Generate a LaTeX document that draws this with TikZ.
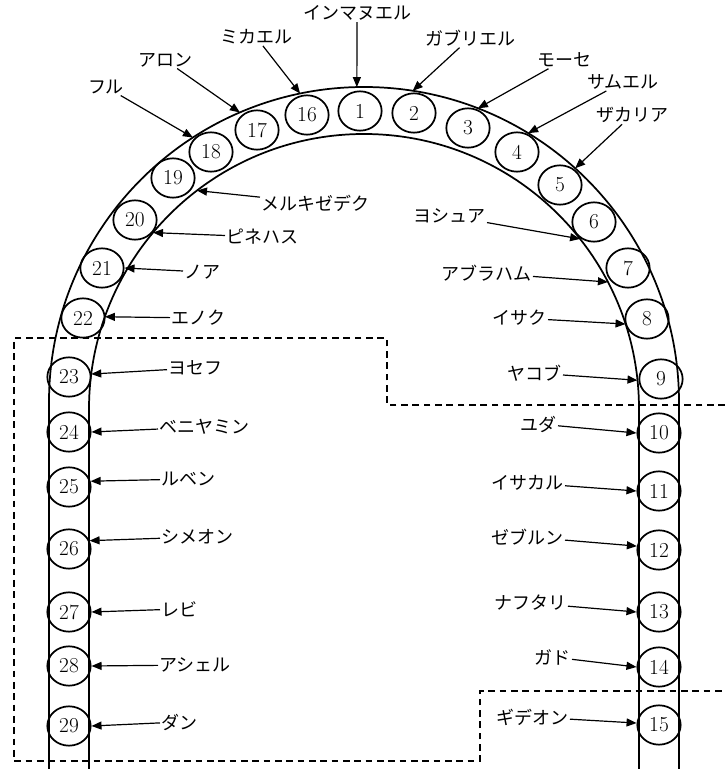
\documentclass[tikz,border=0pt]{standalone}
\usepackage{fontspec}
\newfontfamily\jp{Noto Sans CJK JP}
\usepackage{tikz}
\usetikzlibrary{calc, arrows.meta, shapes.geometric}

\begin{document}
\begin{tikzpicture}[
    x=0.75pt, y=0.75pt,
    num/.style={ellipse, draw, line width=1.3pt, minimum width=32.5pt, minimum height=29.5pt, inner sep=0pt, font=\fontsize{16}{18}\selectfont},
    lab/.style={inner sep=1pt, font=\jp\fontsize{13.5}{16}\selectfont},
    arrow/.style={-{Triangle[length=7.5pt,width=6pt]}, line width=0.9pt},
    band/.style={line width=1.3pt},
    zone/.style={line width=1.1pt, dash pattern=on 5pt off 3.5pt}
  ]
    \useasboundingbox (0,0) rectangle (725,769);
    \coordinate (Oo) at (364,367);
    \coordinate (Oi) at (364,360);

    \draw[band] (49,0) -- (49,367) arc[start angle=180, end angle=0, radius=315] -- (679,0);
    \draw[band] (89,0) -- (89,360) arc[start angle=180, end angle=0, radius=275] -- (639,0);
    \draw[zone] (725,364) -- (387,364) -- (387,431) -- (14,431) -- (14,8) -- (480,8) -- (480,78) -- (725,78);

    \foreach \n/\x/\y in {1/360/658, 2/414/656, 3/468/641, 4/517/617, 5/560/584,
        6/594/547, 7/628/501, 8/647/450, 9/661/390, 10/659/336, 11/659/278,
        12/659/219, 13/659/157, 14/659/102, 15/659/44, 16/307/654, 17/257/639,
        18/211/617, 19/173/591, 20/135/549, 21/102/501, 22/83/451, 23/69/392,
        24/69/337, 25/69/282, 26/69/220, 27/69/157, 28/69/103, 29/69/43}
      \node[num] (c\n) at (\x,\y) {\n};

    \foreach \t/\a in {imm/91.3, mik/101.7, aro/113.2, hur/122.9, gab/81.1, mos/68.8, sam/58.6, zak/47.9}
      \coordinate (t-\t) at ($(Oo)+(\a:315)$);
    \foreach \t/\a in {mel/127.4, pin/140.1, eno/160.4, yos/172.7, jos/38.2, abr/27.5, isa/18, yak/6}
      \coordinate (t-\t) at ($(Oi)+(\a:275)$);

    \node[lab] (immanuel) at (357,756) {インマヌエル};
    \node[lab] (michael) at (256,732) {ミカエル};
    \node[lab] (aaron) at (165,709) {アロン};
    \node[lab] (hur) at (106,682) {フル};
    \node[lab] (gabriel) at (470,731) {ガブリエル};
    \node[lab] (moses) at (564,709) {モーセ};
    \node[lab] (samuel) at (623,687) {サムエル};
    \node[lab] (zechariah) at (632,654) {ザカリア};

    \node[lab, anchor=west] (melchizedek) at (260,566) {メルキゼデク};
    \node[lab, anchor=west] (phinehas) at (225,532) {ピネハス};
    \node[lab, anchor=west] (noah) at (183,497) {ノア};
    \node[lab, anchor=west] (enoch) at (170,451) {エノク};
    \node[lab, anchor=west] (joseph) at (167,401) {ヨセフ};
    \node[lab, anchor=west] (benjamin) at (158,342) {ベニヤミン};
    \node[lab, anchor=west] (reuben) at (160,290) {ルベン};
    \node[lab, anchor=west] (simeon) at (160,232) {シメオン};
    \node[lab, anchor=west] (levi) at (160,160) {レビ};
    \node[lab, anchor=west] (asher) at (158,104) {アシェル};
    \node[lab, anchor=west] (dan) at (160,47) {ダン};

    \node[lab, anchor=east] (joshua) at (487,553) {ヨシュア};
    \node[lab, anchor=east] (abraham) at (533,496) {アブラハム};
    \node[lab, anchor=east] (isaac) at (548,451) {イサク};
    \node[lab, anchor=east] (jacob) at (563,396) {ヤコブ};
    \node[lab, anchor=east] (judah) at (558,345) {ユダ};
    \node[lab, anchor=east] (issachar) at (565,286) {イサカル};
    \node[lab, anchor=east] (zebulun) at (565,232) {ゼブルン};
    \node[lab, anchor=east] (naphtali) at (568,166) {ナフタリ};
    \node[lab, anchor=east] (gad) at (572,112) {ガド};
    \node[lab, anchor=east] (gideon) at (570,52) {ギデオン};

    \foreach \a/\b in {immanuel/t-imm, michael/t-mik, aaron/t-aro, hur/t-hur,
        gabriel/t-gab, moses/t-mos, samuel/t-sam, zechariah/t-zak,
        melchizedek/t-mel, phinehas/t-pin, noah/c21.east, enoch/t-eno,
        joseph/t-yos, benjamin/c24.east, reuben/c25.15, simeon/c26.22,
        levi/c27.east, asher/c28.east, dan/c29.east,
        joshua/t-jos, abraham/t-abr, isaac/t-isa, jacob/t-yak,
        judah/c10.west, issachar/c11.west, zebulun/c12.170, naphtali/c13.west,
        gad/c14.west, gideon/c15.175}
      \draw[arrow] (\a) -- (\b);
  \end{tikzpicture}
\end{document}
